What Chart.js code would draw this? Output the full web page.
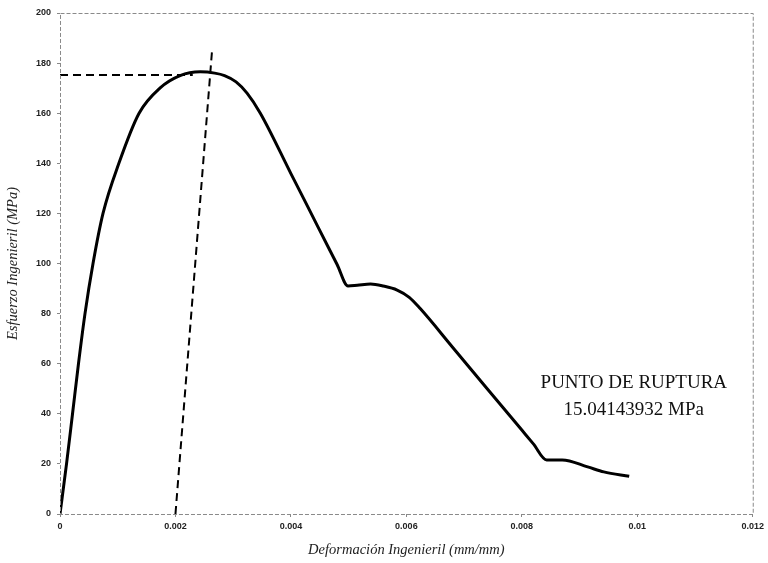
<!DOCTYPE html>
<html>
<head>
<meta charset="utf-8">
<script src="https://cdn.jsdelivr.net/npm/chart.js@4.4.1/dist/chart.umd.min.js"></script>
<style>
  html, body { margin: 0; padding: 0; background: #fff; }
  #wrap { width: 768px; height: 563px; }
</style>
</head>
<body>
<div id="wrap"><canvas id="grafica"></canvas></div>
<script>
// curva esfuerzo-deformacion
const deformacion = [0, 0.000113, 0.000217, 0.00032, 0.000433, 0.000572, 0.000745, 0.00102, 0.00137,
  0.00173, 0.00208, 0.00243, 0.00268, 0.00285, 0.00305, 0.00324, 0.00347,
  0.004, 0.0043, 0.00465, 0.0048, 0.00499, 0.00515, 0.00538, 0.0056, 0.00584, 0.00605, 0.00624,
  0.0068, 0.0074, 0.008, 0.0082, 0.00843, 0.0087, 0.00914, 0.00942, 0.00986]
const esfuerzo = [0, 20, 40, 60, 80, 100, 120, 140, 160,
  170, 175, 176.5, 176, 175, 172.5, 168, 160,
  135.9, 122.3, 106.4, 99.6, 91, 91.3, 91.8, 91, 89.4, 86.5, 82,
  66.6, 50, 33.5, 28, 21.6, 21.6, 18.8, 16.8, 15.04143932]

// lineas auxiliares (offset 0.2% y esfuerzo maximo)
const offsetX = [0.002, 0.002636]
const offsetY = [0, 185.6]
const maxX = [0, 0.0023]
const maxY = [175.2, 175.2]

const xTicks = ['0', '0.002', '0.004', '0.006', '0.008', '0.01', '0.012']
const yTicks = ['0', '20', '40', '60', '80', '100', '120', '140', '160', '180', '200']

const ruptura = ['PUNTO DE RUPTURA', esfuerzo[esfuerzo.length - 1] + ' MPa']

const pts = (xs, ys) => xs.map((x, i) => ({ x: x, y: ys[i] }))

const marco = {
  id: 'marco',
  afterDraw(chart) {
    const { ctx, chartArea: a, scales } = chart
    ctx.save()
    ctx.strokeStyle = '#8a8a8a'
    ctx.lineWidth = 1
    ctx.setLineDash([4, 2])
    ctx.strokeRect(a.left + 0.5, a.top + 0.5, a.right - a.left, a.bottom - a.top)
    ctx.setLineDash([])
    // texto del punto de ruptura
    ctx.fillStyle = '#111'
    ctx.font = '19px "Liberation Serif", "Times New Roman", serif'
    ctx.textAlign = 'center'
    ctx.textBaseline = 'middle'
    const cx = scales.x.getPixelForValue(0.00994)
    ctx.fillText(ruptura[0], cx, scales.y.getPixelForValue(52.3))
    ctx.fillText(ruptura[1], cx, scales.y.getPixelForValue(41.5))
    ctx.restore()
  }
}

new Chart(document.getElementById('grafica'), {
  type: 'scatter',
  data: {
    datasets: [{
      data: pts(deformacion, esfuerzo),
      showLine: true,
      borderColor: '#000',
      borderWidth: 3,
      pointRadius: 0,
      cubicInterpolationMode: 'monotone'
    }, {
      data: pts(offsetX, offsetY),
      showLine: true,
      borderColor: '#000',
      borderWidth: 2,
      borderDash: [8, 5],
      pointRadius: 0
    }, {
      data: pts(maxX, maxY),
      showLine: true,
      borderColor: '#000',
      borderWidth: 2,
      borderDash: [8, 5],
      pointRadius: 0
    }]
  },
  options: {
    responsive: true,
    maintainAspectRatio: false,
    animation: false,
    layout: { padding: { top: 13, right: 13, left: 0, bottom: 0 } },
    plugins: { legend: { display: false }, tooltip: { enabled: false } },
    scales: {
      x: {
        type: 'linear',
        min: 0,
        max: 0.012,
        afterFit: (s) => { s.height = 49 },
        ticks: {
          stepSize: 0.002,
          color: '#222',
          font: { family: 'Liberation Sans', size: 9, weight: 'bold' },
          padding: 4,
          maxRotation: 0,
          callback: (v, i) => xTicks[i]
        },
        grid: { drawOnChartArea: false, tickLength: 3, color: '#888' },
        border: { display: false },
        title: {
          display: true,
          text: 'Deformación Ingenieril (mm/mm)',
          color: '#222',
          font: { family: 'Liberation Serif', size: 14.5, style: 'italic' },
          padding: { top: 0 }
        }
      },
      y: {
        min: 0,
        max: 200,
        afterFit: (s) => { s.width = 60 },
        ticks: {
          stepSize: 20,
          color: '#222',
          font: { family: 'Liberation Sans', size: 9, weight: 'bold' },
          padding: 6,
          callback: (v, i) => yTicks[i]
        },
        grid: { drawOnChartArea: false, tickLength: 3, color: '#888' },
        border: { display: false },
        title: {
          display: true,
          text: 'Esfuerzo Ingenieril (MPa)',
          color: '#222',
          font: { family: 'Liberation Serif', size: 14.5, style: 'italic' },
          padding: { bottom: 2 }
        }
      }
    }
  },
  plugins: [marco]
})
</script>
</body>
</html>
